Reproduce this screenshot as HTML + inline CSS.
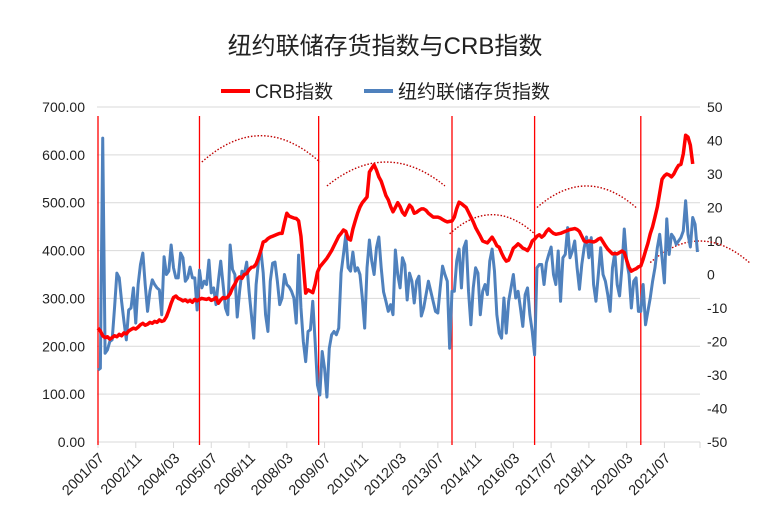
<!DOCTYPE html>
<html><head><meta charset="utf-8">
<style>
html,body{margin:0;padding:0;background:#fff;}
svg{display:block;font-family:"Liberation Sans","Noto Sans CJK SC",sans-serif;}
</style></head>
<body>
<svg id="chart" width="770" height="525" viewBox="0 0 770 525">
<text x="385" y="54" text-anchor="middle" font-size="24" fill="#222">纽约联储存货指数与CRB指数</text>
<g>
<line x1="221" y1="91" x2="250" y2="91" stroke="#ff0000" stroke-width="4"/>
<text x="255" y="98" font-size="19" fill="#222">CRB指数</text>
<line x1="364" y1="91" x2="393" y2="91" stroke="#4f81bd" stroke-width="4"/>
<text x="398" y="98" font-size="19" fill="#222">纽约联储存货指数</text>
</g>
<g id="grid"></g>
<g id="axes"></g>
<g id="marks"></g>
</svg>
<script>
const leftTicks = [0,100,200,300,400,500,600,700];
const leftTickLabels = ["0.00","100.00","200.00","300.00","400.00","500.00","600.00","700.00"];
const rightTicks = [-50,-40,-30,-20,-10,0,10,20,30,40,50];
const xTickLabels = ["2001/07","2002/11","2004/03","2005/07","2006/11","2008/03","2009/07","2010/11","2012/03","2013/07","2014/11","2016/03","2017/07","2018/11","2020/03","2021/07"];
const xTickMonths = [0,16,32,48,64,80,96,112,128,144,160,176,192,208,224,240];
// Monthly from 2001/07
const crbValues = [238,232,222,218,220,215,
218,222,220,225,222,228,226,232,235,238,236,240,
245,248,244,246,250,248,252,250,255,252,254,262,
275,290,302,305,300,298,295,297,293,296,292,298,
295,298,300,299,298,300,296,298,302,290,297,302,
300,303,310,322,330,340,345,342,350,352,360,365,
366,372,385,400,418,420,425,428,430,432,434,436,
436,458,478,472,470,468,467,462,430,370,311,318,
315,312,330,355,366,372,378,384,392,400,410,420,
430,436,443,440,425,422,445,462,478,491,500,506,
512,564,572,579,568,554,545,530,515,506,492,481,
490,500,492,480,474,485,495,490,478,480,484,487,
487,484,478,474,470,470,470,468,465,462,460,461,
462,470,488,501,498,494,490,480,470,460,448,439,
430,420,418,416,422,428,420,410,407,395,385,378,
380,392,405,409,414,410,405,403,400,408,420,424,
430,433,428,432,440,445,440,436,434,435,436,438,
440,442,444,445,446,444,440,430,420,418,420,419,
418,420,424,426,418,410,403,398,393,394,393,396,
399,396,380,365,357,360,362,366,368,382,399,415,
435,450,470,491,520,549,556,560,558,554,560,570,
578,580,602,641,637,620,581];
const inventoryValues = [-28.5,-28,40.7,-23.5,-22.5,-20,
-19.5,-10,0.4,-1,-8,-14,-19.5,-10.6,-10,-4,-14.5,-3,
3,6.4,-3,-11,-5,-1.6,-3,-4,-4.6,-12,5.3,0,
1,8.8,2,-1,-1,6.4,5,-2,-1,2.2,-1,-1,
-10.6,1.3,-4,-2,-3,4.3,-5.5,-4,-9,-2,4,-3,
-10,-12,8.8,1.5,0,-12.7,-5,1,0,3.7,-5,-12,
-19,-3,4,7.3,0.5,-12,-17,-2,3.4,3.7,-2,-9,
-7,0,-3,-3.7,-5,-7,-14.5,5.8,-10,-20,-26,-17,
-16.5,-8,-20,-33,-36,-23,-28,-36.6,-22,-18,-17,-18,
-16,0.4,6,11.8,2,1,6.7,1,2,0,-7,-16,
2,10.3,4,0,8,11.2,2,-5.2,-8,-11,-9,-12,
7.3,0,-4,5,3,-7.6,0.4,-2,-8.5,-2,-0.5,-12.4,
-10,-6,-2,-5,-8,-11,-11.5,-4,2.5,0,-2,-22,
-5,-5,4,7.6,-4,8,10,-5,-15,-4,2,0.4,
-12,-5,-3,-6,4,7.6,1,-12,-17.5,-19,-7,-17.5,
-8,-4,0,-7,-5,-10,-15.5,-6,-4,-12,-17,-24,
2,3,3,-3,3.5,6,8.2,0,-3,7,-8,5,
6,14,5,7,10,2,-4.4,3,8,11.2,5,11,
-3,-8,0,8,0,-2,-6,-11,2,6.5,-3,-6.4,
2,13.6,4,0,-10,-2,-1,-11,-11,-3,-15,-11,
-7,-2,2,8,12,5,-2.5,16.6,6,12,11,9,
10,11,13,22,12,8.2,17,15,6.7];
const cycleBreakMonths = [0,43,93.5,150,185,230];
const arcStartMonths = [44,97,149,186,234];
const arcEndMonths = [94,147,185,228,276];
const arcEndValues = [585,535,435,490,375];
const arcPeakValues = [640,585,475,535,420];

const NS="http://www.w3.org/2000/svg";
const X0=98, DX=2.36, PL=97, PR=700, PT=107, PB=442;
const xScale = m => X0 + m*DX;
const yLeft = v => PB - (v/700)*(PB-PT);
const yRight = v => PB - ((v+50)/100)*(PB-PT);
function mk(tag, attrs, parent){const e=document.createElementNS(NS,tag);for(const k in attrs)e.setAttribute(k,attrs[k]);parent.appendChild(e);return e;}
const grid=document.getElementById('grid'), axes=document.getElementById('axes'), marks=document.getElementById('marks');

leftTicks.forEach((v,i)=>{
  const y=yLeft(v);
  const gl=mk('line',{x1:PL,x2:PR,y1:y,y2:y,stroke:'#d9d9d9','stroke-width':1},grid);
  
  
  const t=mk('text',{x:85,y:y+5,'text-anchor':'end','font-size':14,fill:'#222'},axes);
  t.textContent=leftTickLabels[i];
  
  
});
rightTicks.forEach(v=>{
  const y=yRight(v);
  const t=mk('text',{x:707,y:y+5,'font-size':14,fill:'#222'},axes);
  t.textContent=String(v);
  
  
});
xTickMonths.forEach((m,i)=>{
  const x=xScale(m);
  const tk=mk('line',{x1:x,x2:x,y1:PB,y2:PB+6,stroke:'#d9d9d9'},axes);
  
  
  const ax=x+7, ay=PB+17;
  const t=mk('text',{x:ax,y:ay,'text-anchor':'end','font-size':14.5,fill:'#222',transform:`rotate(-45 ${ax} ${ay})`},axes);
  t.textContent=xTickLabels[i];
  
  
});
const tk2=mk('line',{x1:PR,x2:PR,y1:PB,y2:PB+6,stroke:'#d9d9d9'},axes);



cycleBreakMonths.forEach(m=>{
  const x=xScale(m);
  const l=mk('line',{x1:x,x2:x,y1:116,y2:445,stroke:'#ff0000','stroke-width':1.3},marks);
  
  
});
arcStartMonths.forEach((s,i)=>{
  const x1=xScale(s), x2=xScale(arcEndMonths[i]), y1=yLeft(arcEndValues[i]);
  const yp=yLeft(arcPeakValues[i]);
  const cy=2*yp-y1;
  const p=mk('path',{d:`M${x1},${y1} Q${(x1+x2)/2},${cy} ${x2},${y1}`,fill:'none',stroke:'#c00000','stroke-width':1.4,'stroke-dasharray':'1.5 1.8'},marks);
  
  
});
const bp=mk('polyline',{points:inventoryValues.map((v,i)=>xScale(i)+','+yRight(v)).join(' '),fill:'none',stroke:'#4f81bd','stroke-width':3,'stroke-linejoin':'round'},marks);


const rp=mk('polyline',{points:crbValues.map((v,i)=>xScale(i)+','+yLeft(v)).join(' '),fill:'none',stroke:'#ff0000','stroke-width':3.5,'stroke-linejoin':'round'},marks);


</script>
</body></html>
